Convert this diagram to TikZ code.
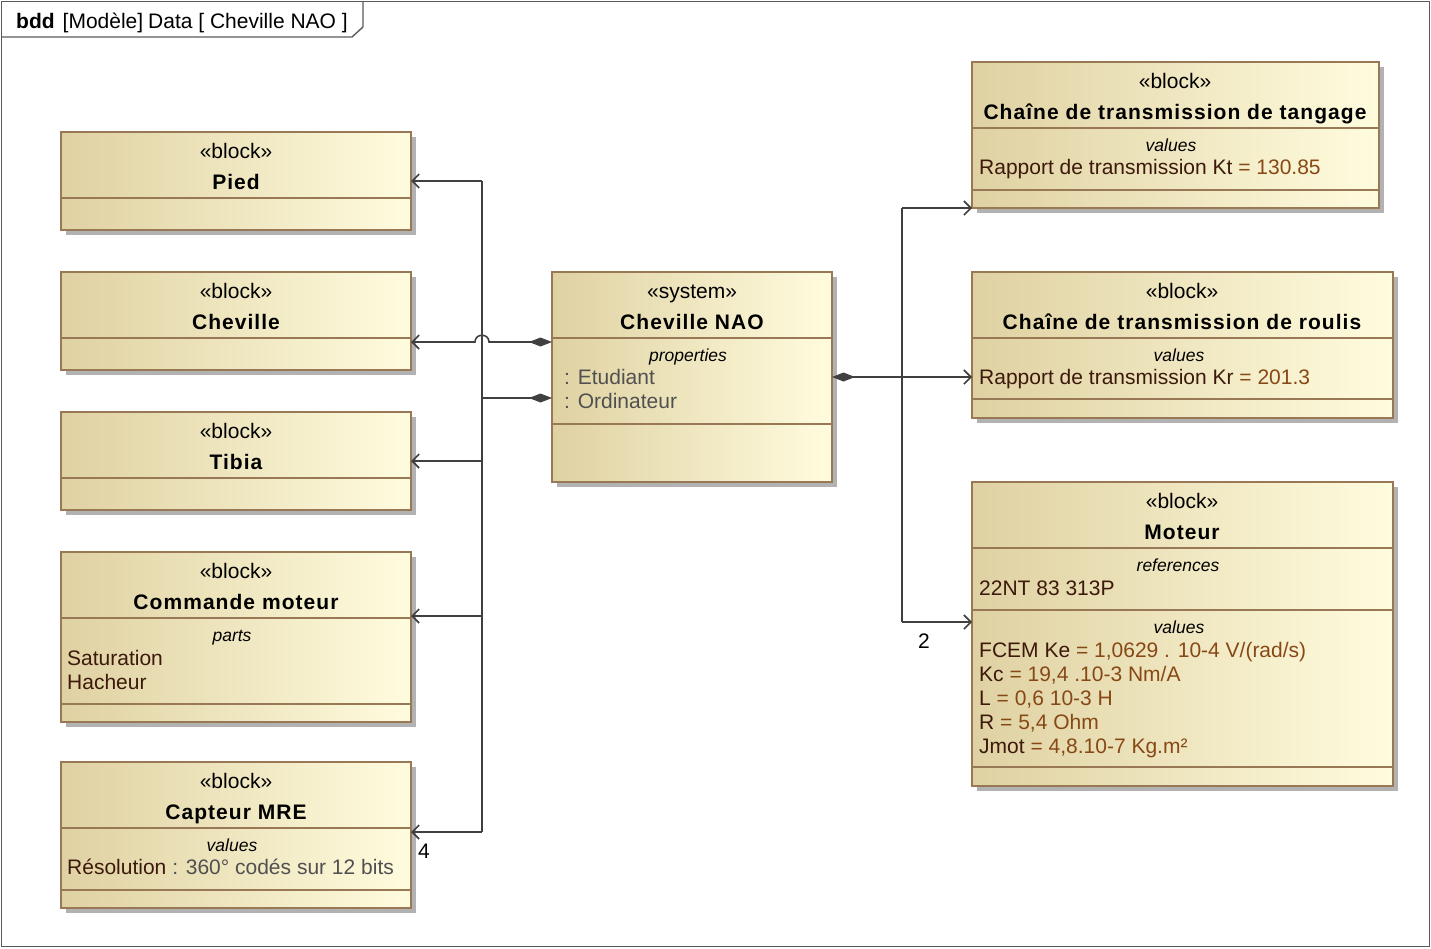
\documentclass[tikz,border=0pt]{standalone}
\usepackage{fontspec}
\setmainfont{Liberation Sans}
\newfontfamily\namefont[LetterSpace=5]{Liberation Sans}
\usetikzlibrary{arrows.meta,shadows}

\definecolor{blkdark}{RGB}{223,209,162}
\definecolor{blklight}{RGB}{255,252,222}
\definecolor{blkline}{RGB}{153,120,85}
\definecolor{blkshadow}{RGB}{178,178,178}
\definecolor{txtname}{RGB}{60,25,10}
\definecolor{txtval}{RGB}{135,72,22}
\definecolor{txtprop}{RGB}{80,80,80}
\definecolor{wirecol}{RGB}{64,64,64}
\definecolor{framecol}{RGB}{90,90,90}

\tikzset{
  blk/.style={draw=blkline, line width=1.4pt, left color=blkdark, right color=blklight,
    inner sep=0pt, outer sep=0pt, anchor=north west,
    drop shadow={shadow xshift=5pt, shadow yshift=-5pt, fill=blkshadow, opacity=1}},
  div/.style={draw=blkline, line width=1.4pt},
  stereo/.style={anchor=base, inner sep=0pt, font=\fontsize{21}{24}\selectfont},
  title/.style={anchor=base, inner sep=0pt, font=\fontsize{21}{24}\selectfont\namefont\bfseries},
  comp/.style={anchor=base, inner sep=0pt, font=\fontsize{17.5}{20}\selectfont\itshape},
  attr/.style={anchor=base west, inner sep=0pt, text=txtname, font=\fontsize{21}{24}\selectfont},
  mult/.style={anchor=base, inner sep=0pt, font=\fontsize{21}{24}\selectfont},
  wire/.style={draw=wirecol, line width=1.6pt},
  assoc/.style={wire, -{Straight Barb[length=7pt, width=14pt]}},
  compo/.style={wire, {Diamond[length=23pt, width=9pt, fill=wirecol]}-{Straight Barb[length=7pt, width=14pt]}},
  part/.style={wire, {Diamond[length=23pt, width=9pt, fill=wirecol]}-}
}

\begin{document}
\begin{tikzpicture}[x=1pt, y=-1pt]
    \useasboundingbox (0,0) rectangle (1431,948);

    \draw[framecol, line width=1.4pt] (1.5,1.5) rectangle (1429.5,946.5);
    \draw[framecol, line width=1.4pt] (1.5,37) -- (352,37) -- (363,27) -- (363,1.5);
    \node[anchor=base west, inner sep=0pt, font=\fontsize{21}{24}\selectfont] (frametitle) at (16,28)
        {\textbf{bdd}\hspace{8pt}[Modèle]\hspace{5pt}Data [ Cheville NAO ]};

    \node[blk, minimum width=350pt, minimum height=98pt] (pied) at (61,132) {};
    \draw[div] (61,198) -- (411,198);
    \node[stereo] (pied-st) at (236,158) {«block»};
    \node[title] (pied-nm) at (236,189) {Pied};

    \node[blk, minimum width=350pt, minimum height=98pt] (cheville) at (61,272) {};
    \draw[div] (61,338) -- (411,338);
    \node[stereo] (cheville-st) at (236,298) {«block»};
    \node[title] (cheville-nm) at (236,329) {Cheville};

    \node[blk, minimum width=350pt, minimum height=98pt] (tibia) at (61,412) {};
    \draw[div] (61,478) -- (411,478);
    \node[stereo] (tibia-st) at (236,438) {«block»};
    \node[title] (tibia-nm) at (236,469) {Tibia};

    \node[blk, minimum width=350pt, minimum height=170pt] (commande) at (61,552) {};
    \draw[div] (61,618) -- (411,618); \draw[div] (61,704) -- (411,704);
    \node[stereo] (commande-st) at (236,578) {«block»};
    \node[title] (commande-nm) at (236,609) {Commande moteur};
    \node[comp] (commande-cp) at (232,641) {parts};
    \node[attr] (commande-a1) at (67,665) {Saturation};
    \node[attr] (commande-a2) at (67,689) {Hacheur};

    \node[blk, minimum width=350pt, minimum height=146pt] (capteur) at (61,762) {};
    \draw[div] (61,828) -- (411,828); \draw[div] (61,890) -- (411,890);
    \node[stereo] (capteur-st) at (236,788) {«block»};
    \node[title] (capteur-nm) at (236,819) {Capteur MRE};
    \node[comp] (capteur-cp) at (232,851) {values};
    \node[attr] (capteur-a1) at (67,874) {Résolution \textcolor{txtprop}{: 360° codés sur 12 bits}};

    \node[blk, minimum width=280pt, minimum height=210pt] (nao) at (552,272) {};
    \draw[div] (552,338) -- (832,338); \draw[div] (552,424) -- (832,424);
    \node[stereo] (nao-st) at (692,298) {«system»};
    \node[title] (nao-nm) at (692,329) {Cheville NAO};
    \node[comp] (nao-cp) at (688,361) {properties};
    \node[attr, text=txtprop] (nao-a1) at (564,384) {: Etudiant};
    \node[attr, text=txtprop] (nao-a2) at (564,408) {: Ordinateur};

    \node[blk, minimum width=407pt, minimum height=146pt] (tangage) at (972,62) {};
    \draw[div] (972,128) -- (1379,128); \draw[div] (972,190) -- (1379,190);
    \node[stereo] (tangage-st) at (1175,88) {«block»};
    \node[title] (tangage-nm) at (1175,119) {Chaîne de transmission de tangage};
    \node[comp] (tangage-cp) at (1171,151) {values};
    \node[attr] (tangage-a1) at (979,174) {Rapport de transmission Kt \textcolor{txtval}{= 130.85}};

    \node[blk, minimum width=421pt, minimum height=146pt] (roulis) at (972,272) {};
    \draw[div] (972,338) -- (1393,338); \draw[div] (972,399) -- (1393,399);
    \node[stereo] (roulis-st) at (1182,298) {«block»};
    \node[title] (roulis-nm) at (1182,329) {Chaîne de transmission de roulis};
    \node[comp] (roulis-cp) at (1179,361) {values};
    \node[attr] (roulis-a1) at (979,384) {Rapport de transmission Kr \textcolor{txtval}{= 201.3}};

    \node[blk, minimum width=421pt, minimum height=304pt] (moteur) at (972,482) {};
    \draw[div] (972,548) -- (1393,548); \draw[div] (972,610) -- (1393,610); \draw[div] (972,767) -- (1393,767);
    \node[stereo] (moteur-st) at (1182,508) {«block»};
    \node[title] (moteur-nm) at (1182,539) {Moteur};
    \node[comp] (moteur-cp1) at (1178,571) {references};
    \node[attr] (moteur-r1) at (979,595) {22NT 83 313P};
    \node[comp] (moteur-cp2) at (1179,633) {values};
    \node[attr] (moteur-a1) at (979,657) {FCEM Ke \textcolor{txtval}{= 1,0629 . 10-4 V/(rad/s)}};
    \node[attr] (moteur-a2) at (979,681) {Kc \textcolor{txtval}{= 19,4 .10-3 Nm/A}};
    \node[attr] (moteur-a3) at (979,705) {L \textcolor{txtval}{= 0,6 10-3 H}};
    \node[attr] (moteur-a4) at (979,729) {R \textcolor{txtval}{= 5,4 Ohm}};
    \node[attr] (moteur-a5) at (979,753) {Jmot \textcolor{txtval}{= 4,8.10-7 Kg.m²}};

    \coordinate (hop) at (482,342);
    \coordinate (jL) at (482,398);
    \coordinate (jC) at (482,616);
    \coordinate (jK) at (482,832);
    \coordinate (jR) at (902,378);
    \coordinate (jM) at (902,622);

    \draw[compo] (nao.west |- hop) -- ([xshift=7pt]hop) .. controls ([xshift=7pt,yshift=9pt]hop) and ([xshift=-7pt,yshift=9pt]hop) .. ([xshift=-7pt]hop) -- (cheville.east |- hop);
    \draw[part] (nao.west |- jL) -- (jL);
    \draw[wire] (jL |- pied.east) -- (jK);
    \draw[assoc] (jL |- pied.east) -- (pied.east);
    \draw[assoc] (jL |- tibia.east) -- (tibia.east);
    \draw[assoc] (jC) -- (commande.east |- jC);
    \draw[assoc] (jK) -- (capteur.east |- jK);
    \node[mult] (mult-capteur) at (424,858) {4};

    \draw[compo] (nao.east) -- (roulis.west |- nao.east);
    \draw[wire] (jR |- tangage.south) -- (jM);
    \draw[assoc] (jR |- tangage.south) -- (tangage.south west);
    \draw[assoc] (jM) -- (moteur.west |- jM);
    \node[mult] (mult-moteur) at (924,648) {2};
\end{tikzpicture}
\end{document}
